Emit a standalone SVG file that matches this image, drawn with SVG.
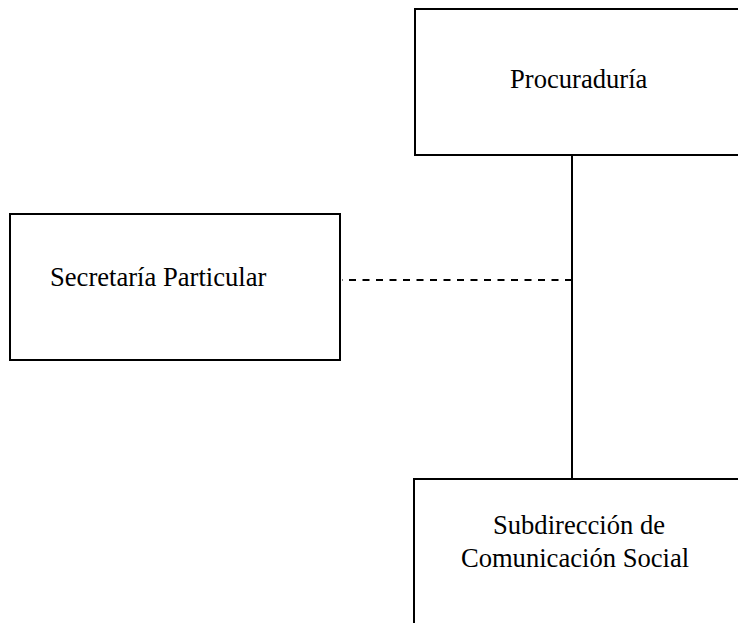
<svg xmlns="http://www.w3.org/2000/svg" width="738" height="623" viewBox="0 0 738 623">
<style>
.box{fill:#fff;stroke:#000;stroke-width:2}
.t{font-family:"Liberation Serif","Times New Roman",serif;font-size:26.6px;fill:#000}
.ln{stroke:#000;stroke-width:2;fill:none}
.dash{stroke-dasharray:7 6.5}
</style>
<rect width="738" height="623" fill="#fff"/>
<g id="connectors">
<line class="ln" x1="572" y1="155" x2="572" y2="479"/>
<line class="ln dash" x1="572" y1="280" x2="342" y2="280"/>
</g>
<g id="procuraduria">
<rect class="box" x="415" y="9" width="340" height="146"/>
<text class="t" x="510" y="88">Procuraduría</text>
</g>
<g id="secretaria">
<rect class="box" x="10" y="214" width="330" height="146"/>
<text class="t" x="50" y="286">Secretaría Particular</text>
</g>
<g id="subdireccion">
<rect class="box" x="414" y="479" width="340" height="160"/>
<text class="t" x="579" y="534" text-anchor="middle">Subdirección de</text>
<text class="t" x="575" y="567" text-anchor="middle">Comunicación Social</text>
</g>
</svg>
